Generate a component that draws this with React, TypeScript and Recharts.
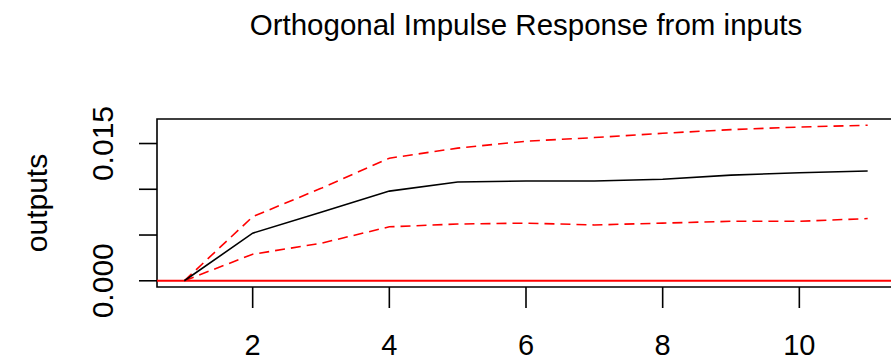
import React from 'react';
import {
  LineChart,
  Line,
  XAxis,
  YAxis,
  ReferenceLine,
  ReferenceArea,
} from 'recharts';

// impulse horizon
const steps = [1, 2, 3, 4, 5, 6, 7, 8, 9, 10, 11];
// orthogonal irf and bootstrap bands
const irf = [0, 0.0052, 0.0075, 0.0098, 0.0108, 0.0109, 0.0109, 0.0111, 0.01155, 0.0118, 0.012];
const upper = [0, 0.007, 0.0101, 0.0134, 0.0145, 0.01525, 0.01565, 0.01612, 0.01652, 0.0168, 0.017];
const lower = [0, 0.0029, 0.0041, 0.0059, 0.0062, 0.0063, 0.0061, 0.0063, 0.0065, 0.0065, 0.0068];

const xTicks = [2, 4, 6, 8, 10];
const yTicks = [0, 0.005, 0.01, 0.015];
const yLabeled = [0, 0.015];

const xDomain: [number, number] = [0.6, 11.4];
const yDomain: [number, number] = [-0.00068, 0.01768];

const FONT = '"Liberation Sans", Arial, sans-serif';

const data = steps.map((s, i) => ({
  step: s,
  irf: irf[i],
  upper: upper[i],
  lower: lower[i],
}));

const XTick = ({ x, y, payload }: any) => (
  <text x={x} y={y + 45} textAnchor="middle" fontFamily={FONT} fontSize={29} fill="#000">
    {payload.value}
  </text>
);

const YTick = ({ x, y, payload }: any) => {
  if (!yLabeled.some((v) => Math.abs(v - payload.value) < 1e-9)) return null;
  const bx = x - 24;
  return (
    <text
      x={bx}
      y={y}
      transform={`rotate(-90, ${bx}, ${y})`}
      textAnchor="middle"
      fontFamily={FONT}
      fontSize={30}
      fill="#000"
    >
      {payload.value.toFixed(3)}
    </text>
  );
};

export default function App() {
  return (
    <div style={{ position: 'absolute', left: 0, top: 0, width: 891, height: 362, overflow: 'hidden', background: '#fff' }}>
      <LineChart
        width={895}
        height={362}
        data={data}
        margin={{ top: 119, right: 0, bottom: 0, left: 0 }}
      >
        <XAxis
          dataKey="step"
          type="number"
          domain={xDomain}
          ticks={xTicks}
          allowDataOverflow
          height={75}
          tickSize={21}
          tickMargin={2}
          axisLine={false}
          tickLine={{ stroke: '#000', strokeWidth: 1.6 }}
          tick={<XTick />}
        />
        <YAxis
          type="number"
          domain={yDomain}
          ticks={yTicks}
          allowDataOverflow
          width={157}
          tickSize={18}
          tickMargin={2}
          axisLine={false}
          tickLine={{ stroke: '#000', strokeWidth: 1.6 }}
          tick={<YTick />}
        />
        <ReferenceArea
          x1={xDomain[0]}
          x2={xDomain[1]}
          y1={yDomain[0]}
          y2={yDomain[1]}
          fill="none"
          stroke="#000"
          strokeWidth={1.6}
          fillOpacity={0}
        />
        <ReferenceLine y={0} stroke="#ff0000" strokeWidth={2} />
        <Line
          dataKey="upper"
          stroke="#ff0000"
          strokeWidth={1.6}
          strokeDasharray="10 6"
          dot={false}
          isAnimationActive={false}
        />
        <Line
          dataKey="lower"
          stroke="#ff0000"
          strokeWidth={1.6}
          strokeDasharray="10 6"
          dot={false}
          isAnimationActive={false}
        />
        <Line
          dataKey="irf"
          stroke="#000"
          strokeWidth={1.6}
          dot={false}
          isAnimationActive={false}
        />
      </LineChart>
      <svg
        width={891}
        height={362}
        style={{ position: 'absolute', left: 0, top: 0, pointerEvents: 'none' }}
      >
        <text x={526} y={34.5} textAnchor="middle" fontFamily={FONT} fontSize={29.5} fill="#000">
          Orthogonal Impulse Response from inputs
        </text>
        <text
          x={47}
          y={203}
          transform="rotate(-90, 47, 203)"
          textAnchor="middle"
          fontFamily={FONT}
          fontSize={30}
          fill="#000"
        >
          outputs
        </text>
      </svg>
    </div>
  );
}
